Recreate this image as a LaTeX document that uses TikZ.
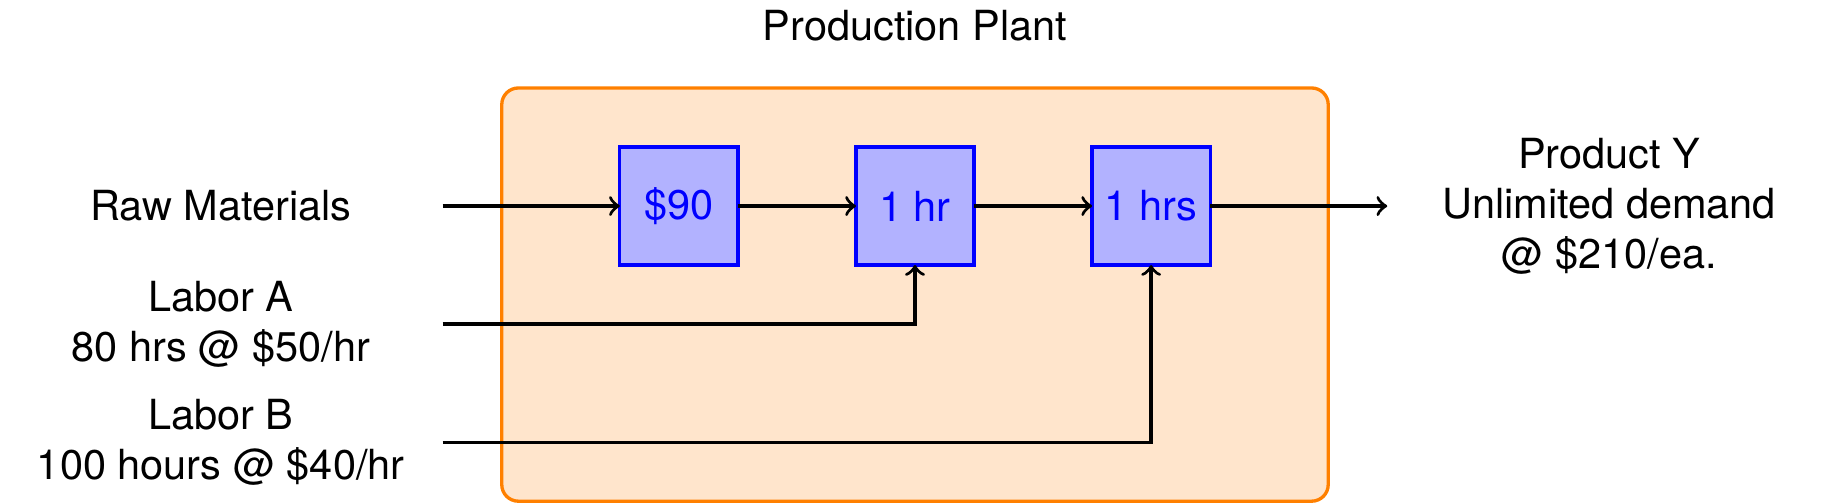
\documentclass[tikz,border=0pt]{standalone}
\usepackage{fontspec}
\setmainfont{TeX Gyre Heros}
\usetikzlibrary{positioning}

\begin{document}
\begin{tikzpicture}[
  ->, thick,
  node distance=1cm,
  proc/.style={draw=blue, thick, fill=blue!30, text=blue, minimum size=1cm, inner sep=0pt, outer sep=0pt},
  plant/.style={draw=orange, thick, fill=orange!20, rounded corners, minimum width=7cm, minimum height=3.5cm}
]
\useasboundingbox (-7.75,-2.515) rectangle (7.75,1.745);

% the plant and its three steps
\node[plant] (plant) at (0,-0.75) {};
\node[above=0.25cm of plant] (title) {Production Plant};

\node[proc] (hr1) at (0,0) {1 hr};
\node[proc, left=of hr1] (cost) {\$90};
\node[proc, right=of hr1] (hr2) {1 hrs};

% inputs and output
\node (raw) at (-5.88,0) {Raw Materials};
\node[align=center] (laborA) at (-5.88,-1) {Labor A\\80 hrs @ \$50/hr};
\node[align=center] (laborB) at (-5.88,-2) {Labor B\\100 hours @ \$40/hr};
\node[align=center] (prod) at (5.88,0) {Product Y\\Unlimited demand\\@ \$210/ea.};

\coordinate (rawin) at (-4,0);
\coordinate (ain) at (-4,-1);
\coordinate (bin) at (-4,-2);
\coordinate (out) at (4,0);

\draw (rawin) -- (cost);
\draw (cost) -- (hr1);
\draw (hr1) -- (hr2);
\draw (hr2) -- (out);
\draw (ain) -| (hr1);
\draw (bin) -| (hr2);

\end{tikzpicture}
\end{document}
